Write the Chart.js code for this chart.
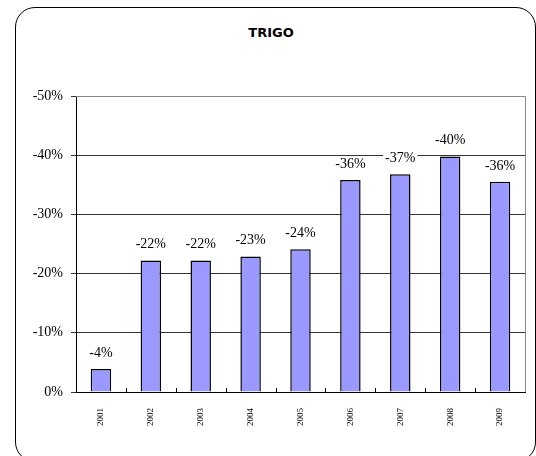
<!DOCTYPE html>
<html>
<head>
<meta charset="utf-8">
<script src="https://cdn.jsdelivr.net/npm/chart.js@4.4.0/dist/chart.umd.min.js"></script>
<style>
    html, body { margin: 0; padding: 0; background: #fff; }
    #wrap { position: relative; width: 536px; height: 456px; overflow: hidden; }
    #frame {
        position: absolute; left: 15px; top: 7px; width: 521px; height: 455px;
        border: 1.5px solid #000; border-radius: 20px; box-sizing: border-box;
    }
    #title {
        position: absolute; left: 0; width: 542px; top: 25px; text-align: center;
        font-family: 'DejaVu Sans', sans-serif; font-weight: bold; font-size: 13px;
    }
    canvas { position: absolute; left: 0; top: 0; }
</style>
</head>
<body>
<div id="wrap">
    <div id="frame"></div>
    <div id="title">TRIGO</div>
    <canvas id="chart" width="536" height="456"></canvas>
</div>
<script>
// 数据
const years = ['2001', '2002', '2003', '2004', '2005', '2006', '2007', '2008', '2009'];
const trigo = [-3.9, -22.2, -22.2, -22.9, -24.1, -35.8, -36.8, -39.8, -35.5];
const labels = ['-4%', '-22%', '-22%', '-23%', '-24%', '-36%', '-37%', '-40%', '-36%'];

const serif = 'Liberation Serif, Times New Roman, serif';

// 柱顶标签 + 边框 + 内向刻度
const extras = {
    id: 'extras',
    afterDatasetsDraw(chart) {
        const ctx = chart.ctx;
        const a = chart.chartArea;
        const xs = chart.scales.x;
        ctx.save();
        // 右边和顶部灰色边框
        ctx.strokeStyle = '#888';
        ctx.lineWidth = 1;
        ctx.beginPath();
        ctx.moveTo(a.left, Math.round(a.top) + 0.5);
        ctx.lineTo(Math.round(a.right) + 0.5, Math.round(a.top) + 0.5);
        ctx.lineTo(Math.round(a.right) + 0.5, a.bottom);
        ctx.stroke();
        // x轴内向刻度
        ctx.strokeStyle = '#000';
        const half = (xs.getPixelForValue(1) - xs.getPixelForValue(0)) / 2;
        for (let i = 1; i < years.length; i++) {
            const x = Math.round(xs.getPixelForValue(i) - half) + 0.5;
            ctx.beginPath();
            ctx.moveTo(x, a.bottom);
            ctx.lineTo(x, a.bottom - 4);
            ctx.stroke();
        }
        // 数值标签
        ctx.font = '14px ' + serif;
        ctx.textAlign = 'center';
        ctx.textBaseline = 'middle';
        const meta = chart.getDatasetMeta(0);
        meta.data.forEach((bar, i) => {
            const y = bar.y - 16;
            const w = ctx.measureText(labels[i]).width + 4;
            ctx.fillStyle = '#fff';
            ctx.fillRect(bar.x - w / 2, y - 8, w, 16);
            ctx.fillStyle = '#000';
            ctx.fillText(labels[i], bar.x, y);
        });
        ctx.restore();
    }
};

new Chart(document.getElementById('chart'), {
    type: 'bar',
    data: {
        labels: years,
        datasets: [{
            data: trigo,
            backgroundColor: '#9999ff',
            borderColor: '#000',
            borderWidth: 1.5,
            barPercentage: 0.82,
            categoryPercentage: 0.5
        }]
    },
    options: {
        responsive: false,
        animation: false,
        layout: { padding: { top: 96, right: 11, left: 0, bottom: 0 } },
        plugins: {
            legend: { display: false },
            title: { display: false },
            tooltip: { enabled: false }
        },
        scales: {
            x: {
                grid: { display: false },
                border: { color: '#000', width: 1 },
                ticks: {
                    maxRotation: 90, minRotation: 90, padding: 8,
                    color: '#000', font: { family: serif, size: 9 }
                },
                afterFit(scale) { scale.height = 64; }
            },
            y: {
                reverse: true,
                min: -50, max: 0,
                grid: { color: '#333', lineWidth: 1, tickLength: 5 },
                border: { color: '#000', width: 1 },
                ticks: {
                    stepSize: 10, padding: 8, color: '#000',
                    font: { family: serif, size: 14 },
                    callback: v => v + '%'
                },
                afterFit(scale) { scale.width = 76; }
            }
        }
    },
    plugins: [extras]
});
</script>
</body>
</html>
